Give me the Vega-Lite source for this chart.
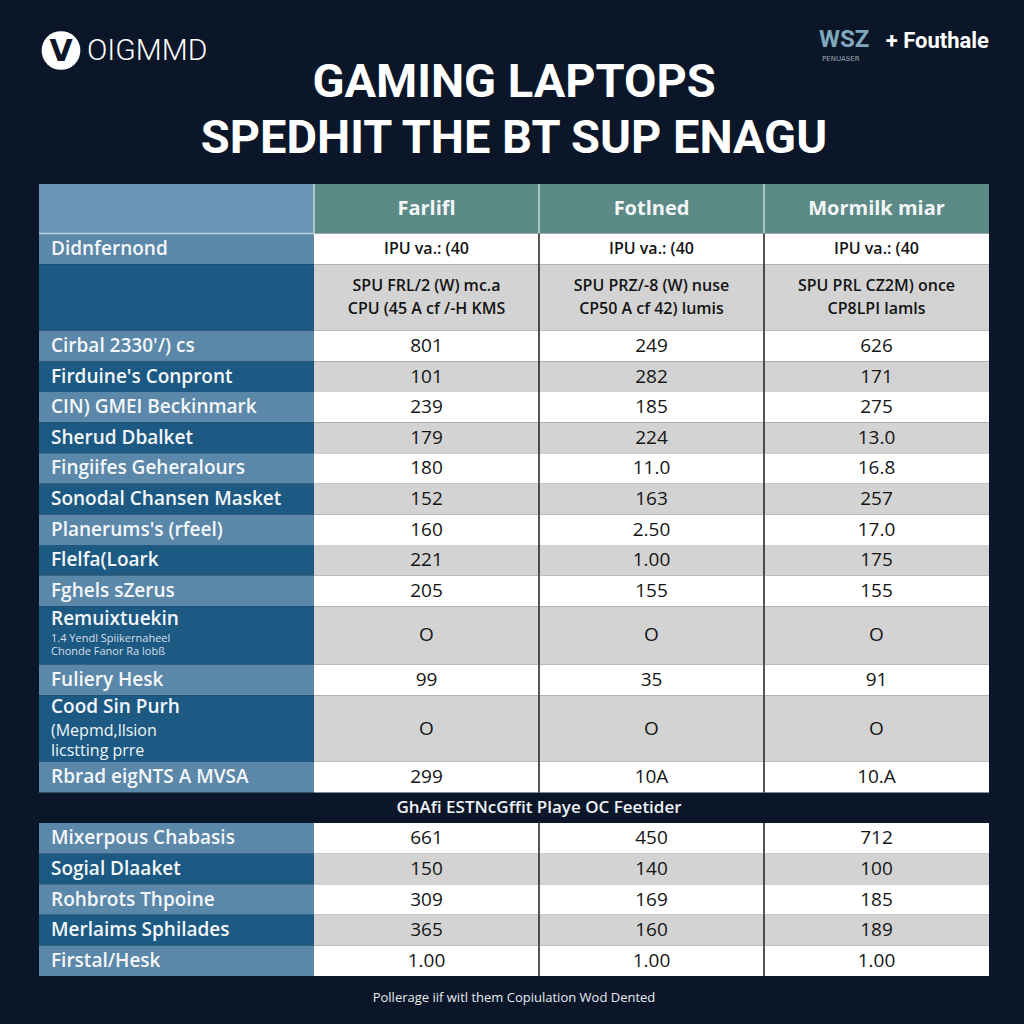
{
  "$schema": "https://vega.github.io/schema/vega-lite/v6.json",
  "background": "#0b1628",
  "padding": {"left": 38, "right": 36, "top": 0, "bottom": 0},
  "autosize": {"type": "pad"},
  "config": {"view": {"stroke": null}, "font": "Open Sans", "concat": {"spacing": 0}},
  "datasets": {
    "brand": [
      {"part": "icon"},
      {"part": "iconV", "text": "V"},
      {"part": "brand", "text": "OIGMMD"},
      {"part": "title", "text": "GAMING LAPTOPS\nSPEDHIT THE BT SUP ENAGU"},
      {"part": "mark", "text": "WSZ"},
      {"part": "partner", "text": "+ Fouthale"},
      {"part": "tag", "text": "PENUASER"}
    ],
    "rows": [
      {"kind": "head", "label": "", "c1": "Farlifl", "c2": "Fotlned", "c3": "Mormilk miar"},
      {"kind": "spec", "label": "Didnfernond", "c1": "IPU va.: (40", "c2": "IPU va.: (40", "c3": "IPU va.: (40"},
      {"kind": "spec", "label": "", "c1": "SPU FRL/2 (W) mc.a\nCPU (45 A cf /-H KMS", "c2": "SPU PRZ/-8 (W) nuse\nCP50 A cf 42) lumis", "c3": "SPU PRL CZ2M) once\nCP8LPI lamls"},
      {"kind": "value", "label": "Cirbal 2330'/) cs", "c1": "801", "c2": "249", "c3": "626"},
      {"kind": "value", "label": "Firduine's Conpront", "c1": "101", "c2": "282", "c3": "171"},
      {"kind": "value", "label": "CIN) GMEI Beckinmark", "c1": "239", "c2": "185", "c3": "275"},
      {"kind": "value", "label": "Sherud Dbalket", "c1": "179", "c2": "224", "c3": "13.0"},
      {"kind": "value", "label": "Fingiifes Geheralours", "c1": "180", "c2": "11.0", "c3": "16.8"},
      {"kind": "value", "label": "Sonodal Chansen Masket", "c1": "152", "c2": "163", "c3": "257"},
      {"kind": "value", "label": "Planerums's (rfeel)", "c1": "160", "c2": "2.50", "c3": "17.0"},
      {"kind": "value", "label": "Flelfa(Loark", "c1": "221", "c2": "1.00", "c3": "175"},
      {"kind": "value", "label": "Fghels sZerus", "c1": "205", "c2": "155", "c3": "155"},
      {"kind": "value", "label": "Remuixtuekin", "detail": "1.4 Yendl Spiikernaheel\nChonde Fanor Ra lobß", "c1": "O", "c2": "O", "c3": "O"},
      {"kind": "value", "label": "Fuliery Hesk", "c1": "99", "c2": "35", "c3": "91"},
      {"kind": "value", "label": "Cood Sin Purh", "sub": "(Mepmd,llsion\nlicstting prre", "c1": "O", "c2": "O", "c3": "O"},
      {"kind": "value", "label": "Rbrad eigNTS A MVSA", "c1": "299", "c2": "10A", "c3": "10.A"},
      {"kind": "section", "label": "GhAfi ESTNcGffit Playe OC Feetider"},
      {"kind": "value", "label": "Mixerpous Chabasis", "c1": "661", "c2": "450", "c3": "712"},
      {"kind": "value", "label": "Sogial Dlaaket", "c1": "150", "c2": "140", "c3": "100"},
      {"kind": "value", "label": "Rohbrots Thpoine", "c1": "309", "c2": "169", "c3": "185"},
      {"kind": "value", "label": "Merlaims Sphilades", "c1": "365", "c2": "160", "c3": "189"},
      {"kind": "value", "label": "Firstal/Hesk", "c1": "1.00", "c2": "1.00", "c3": "1.00"}
    ],
    "foot": [{"note": "Pollerage iif witl them Copiulation Wod Dented"}]
  },
  "vconcat": [
    {
      "width": 950,
      "height": 183,
      "data": {"name": "brand"},
      "layer": [
        {
          "transform": [{"filter": "datum.part === 'icon'"}],
          "mark": {"type": "point", "filled": true, "color": "#ffffff", "opacity": 1, "size": 1500},
          "encoding": {
            "x": {"datum": "L", "bandPosition": 0, "scale": {"type": "band", "domain": ["L", "R"], "paddingInner": 0, "paddingOuter": 0}, "axis": null},
            "xOffset": {"value": 22},
            "yOffset": {"value": -41}
          }
        },
        {
          "transform": [{"filter": "datum.part === 'iconV'"}],
          "mark": {"type": "text", "align": "center", "baseline": "middle", "dx": 22, "dy": -40, "font": "DejaVu Sans", "fontSize": 30, "fontWeight": "bold", "color": "#0b1628"},
          "encoding": {"x": {"datum": "L", "bandPosition": 0}, "text": {"field": "text"}}
        },
        {
          "transform": [{"filter": "datum.part === 'brand'"}],
          "mark": {"type": "text", "align": "left", "baseline": "middle", "dx": 48, "dy": -41, "font": "Roboto", "fontSize": 30, "fontWeight": 300, "color": "#ffffff"},
          "encoding": {"x": {"datum": "L", "bandPosition": 0}, "text": {"field": "text"}}
        },
        {
          "transform": [{"filter": "datum.part === 'title'"}],
          "mark": {"type": "text", "align": "center", "baseline": "middle", "lineBreak": "\n", "lineHeight": 56, "dy": -9, "font": "Roboto", "fontSize": 47, "fontWeight": "bold", "color": "#ffffff"},
          "encoding": {"text": {"field": "text"}}
        },
        {
          "transform": [{"filter": "datum.part === 'mark'"}],
          "mark": {"type": "text", "align": "left", "baseline": "middle", "dx": -170, "dy": -52, "font": "Roboto", "fontSize": 24, "fontWeight": "bold", "color": "#7fa8bd"},
          "encoding": {"x": {"datum": "R", "bandPosition": 1}, "text": {"field": "text"}}
        },
        {
          "transform": [{"filter": "datum.part === 'partner'"}],
          "mark": {"type": "text", "align": "right", "baseline": "middle", "dx": 0, "dy": -51, "font": "Roboto", "fontSize": 22, "fontWeight": "bold", "color": "#ffffff"},
          "encoding": {"x": {"datum": "R", "bandPosition": 1}, "text": {"field": "text"}}
        },
        {
          "transform": [{"filter": "datum.part === 'tag'"}],
          "mark": {"type": "text", "align": "left", "baseline": "middle", "dx": -167, "dy": -33, "font": "DejaVu Sans", "fontSize": 7, "color": "#9aa9b6"},
          "encoding": {"x": {"datum": "R", "bandPosition": 1}, "text": {"field": "text"}}
        }
      ]
    },
    {
      "data": {"name": "rows"},
      "transform": [
        {"window": [{"op": "row_number", "as": "rn"}]},
        {"calculate": "length(split(datum.c1 || '', '\\n'))", "as": "cellLines"},
        {"calculate": "datum.detail ? length(split(datum.detail, '\\n')) : 0", "as": "detLines"},
        {"calculate": "datum.sub ? length(split(datum.sub, '\\n')) : 0", "as": "subLines"},
        {"calculate": "datum.kind === 'head' ? 1.62 : 1 + 1.18 * (datum.cellLines - 1) + 0.455 * datum.detLines + 0.59 * datum.subLines", "as": "span"},
        {"window": [{"op": "sum", "field": "span", "as": "yEnd"}], "sort": [{"field": "rn"}]},
        {"calculate": "datum.yEnd - datum.span", "as": "yStart"},
        {"calculate": "(datum.yStart + datum.yEnd) / 2", "as": "yMid"},
        {"calculate": "datum.yMid - (datum.cellLines - 1) * 0.376", "as": "yCell"},
        {"calculate": "datum.detail ? datum.yStart + 0.42 : datum.sub ? datum.yStart + 0.39 : datum.yMid", "as": "yLabel"},
        {"calculate": "datum.yStart + 1.08", "as": "yDetail"},
        {"calculate": "datum.yStart + 1.18", "as": "ySub"},
        {"calculate": "datum.kind === 'head' ? 'head' : datum.kind === 'section' ? 'section' : (datum.rn % 2 === 0 ? 'light' : 'dark')", "as": "tone"}
      ],
      "spacing": 0,
      "bounds": "flush",
      "resolve": {"scale": {"y": "shared"}},
      "hconcat": [
        {
          "width": 275,
          "height": 792,
          "layer": [
            {
              "transform": [{"filter": "datum.tone !== 'section'"}],
              "mark": {"type": "rect"},
              "encoding": {
                "x": {"datum": "label", "scale": {"type": "band", "domain": ["label"], "paddingInner": 0, "paddingOuter": 0}, "axis": null},
                "y": {"field": "yStart", "type": "quantitative", "scale": {"zero": true, "nice": false, "reverse": true}, "axis": null},
                "y2": {"field": "yEnd"},
                "fill": {"condition": [{"test": "datum.tone === 'head'", "value": "#6b94b4"}, {"test": "datum.tone === 'light'", "value": "#5b87a9"}], "value": "#1d5a83"}
              }
            },
            {
              "transform": [{"filter": "datum.kind === 'head'"}],
              "mark": {"type": "rule", "color": "#b9cddb", "strokeWidth": 1.5},
              "encoding": {"y": {"field": "yEnd", "type": "quantitative"}}
            },
            {
              "transform": [{"filter": "datum.label && datum.kind !== 'section'"}],
              "mark": {"type": "text", "align": "left", "baseline": "middle", "dx": 12, "font": "Open Sans", "fontSize": 19, "fontWeight": 600, "color": "#f4f7fa"},
              "encoding": {
                "x": {"datum": "label", "bandPosition": 0},
                "y": {"field": "yLabel", "type": "quantitative"},
                "text": {"field": "label"}
              }
            },
            {
              "transform": [{"filter": "datum.detail"}],
              "mark": {"type": "text", "align": "left", "baseline": "middle", "dx": 12, "lineBreak": "\n", "lineHeight": 13, "font": "Open Sans", "fontSize": 11, "color": "#d5dfe8"},
              "encoding": {
                "x": {"datum": "label", "bandPosition": 0},
                "y": {"field": "yDetail", "type": "quantitative"},
                "text": {"field": "detail"}
              }
            },
            {
              "transform": [{"filter": "datum.sub"}],
              "mark": {"type": "text", "align": "left", "baseline": "middle", "dx": 12, "lineBreak": "\n", "lineHeight": 20, "font": "Open Sans", "fontSize": 16, "color": "#f0f4f8"},
              "encoding": {
                "x": {"datum": "label", "bandPosition": 0},
                "y": {"field": "ySub", "type": "quantitative"},
                "text": {"field": "sub"}
              }
            }
          ]
        },
        {
          "width": 675,
          "height": 792,
          "transform": [{"fold": ["c1", "c2", "c3"], "as": ["col", "val"]}],
          "layer": [
            {
              "transform": [{"filter": "datum.tone !== 'section'"}],
              "mark": {"type": "rect"},
              "encoding": {
                "x": {"field": "col", "type": "nominal", "scale": {"type": "band", "domain": ["c1", "c2", "c3"], "paddingInner": 0, "paddingOuter": 0}, "axis": null},
                "y": {"field": "yStart", "type": "quantitative", "scale": {"zero": true, "nice": false, "reverse": true}, "axis": null},
                "y2": {"field": "yEnd"},
                "fill": {"condition": [{"test": "datum.tone === 'head'", "value": "#5c8a87"}, {"test": "datum.tone === 'light'", "value": "#ffffff"}], "value": "#d3d3d3"}
              }
            },
            {
              "transform": [{"filter": "datum.tone !== 'section' && (datum.tone === 'head' || datum.col !== 'c1')"}],
              "mark": {"type": "rule", "strokeWidth": 1.5},
              "encoding": {
                "x": {"field": "col", "type": "nominal", "bandPosition": 0},
                "y": {"field": "yStart", "type": "quantitative"},
                "y2": {"field": "yEnd"},
                "color": {"condition": {"test": "datum.tone === 'head'", "value": "#c9d8d6"}, "value": "#1c1c1c"}
              }
            },
            {
              "transform": [{"filter": "datum.kind === 'head'"}],
              "mark": {"type": "text", "align": "center", "baseline": "middle", "font": "Open Sans", "fontSize": 20, "fontWeight": "bold", "color": "#f2f6f6"},
              "encoding": {
                "x": {"field": "col", "type": "nominal"},
                "y": {"field": "yMid", "type": "quantitative"},
                "text": {"field": "val"}
              }
            },
            {
              "transform": [{"filter": "datum.kind === 'spec'"}],
              "mark": {"type": "text", "align": "center", "baseline": "middle", "lineBreak": "\n", "lineHeight": 23, "font": "Open Sans", "fontSize": 16, "fontWeight": 600, "color": "#141414"},
              "encoding": {
                "x": {"field": "col", "type": "nominal"},
                "y": {"field": "yCell", "type": "quantitative"},
                "text": {"field": "val"}
              }
            },
            {
              "transform": [{"filter": "datum.kind === 'value'"}],
              "mark": {"type": "text", "align": "center", "baseline": "middle", "font": "Open Sans", "fontSize": 19, "color": "#151515"},
              "encoding": {
                "x": {"field": "col", "type": "nominal"},
                "y": {"field": "yMid", "type": "quantitative"},
                "text": {"field": "val"}
              }
            },
            {
              "transform": [{"filter": "datum.kind === 'section' && datum.col === 'c1'"}],
              "mark": {"type": "text", "align": "center", "baseline": "middle", "font": "Open Sans", "fontSize": 17, "fontWeight": 600, "color": "#eef2f6"},
              "encoding": {
                "x": {"field": "col", "type": "nominal", "bandPosition": 1},
                "y": {"field": "yMid", "type": "quantitative"},
                "text": {"field": "label"}
              }
            }
          ]
        }
      ]
    },
    {
      "width": 950,
      "height": 49,
      "data": {"name": "foot"},
      "mark": {"type": "text", "align": "center", "baseline": "middle", "dy": -4, "font": "Open Sans", "fontSize": 13, "color": "#e6ebf0"},
      "encoding": {"text": {"field": "note"}}
    }
  ],
  "spacing": 0
}
